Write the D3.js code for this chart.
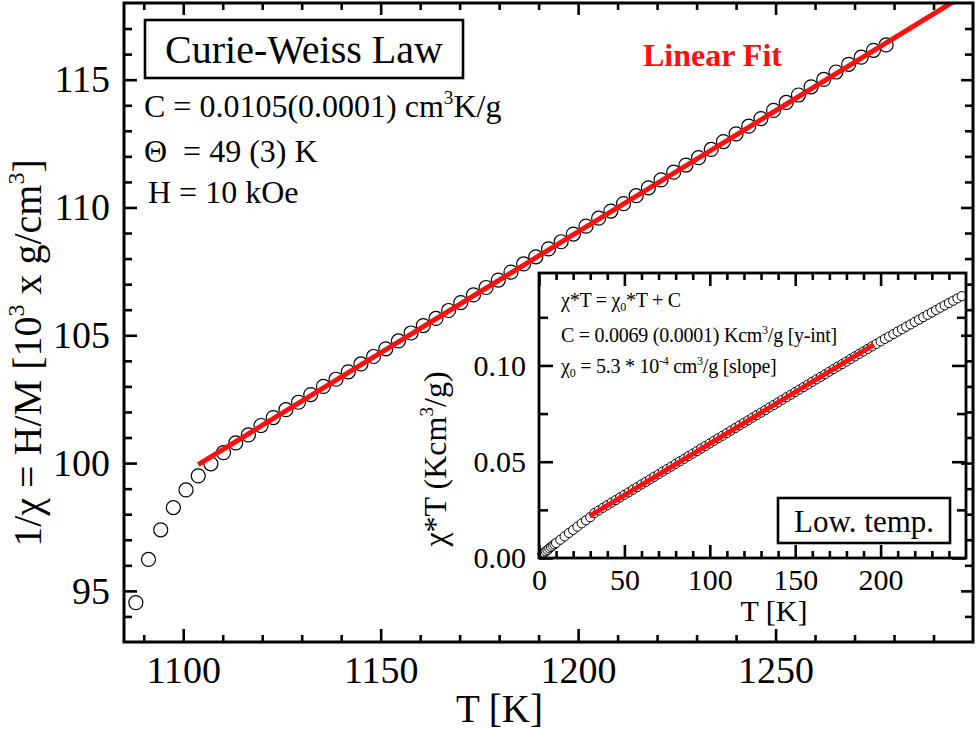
<!DOCTYPE html>
<html>
<head>
<meta charset="utf-8">
<script src="https://cdn.jsdelivr.net/npm/d3@7"></script>
<style>
  body { margin: 0; background: #fff; }
  svg text { font-family: 'Liberation Serif', 'Times New Roman', serif; fill: #000; white-space: pre; }
</style>
</head>
<body>
<svg id="chart"></svg>
<script>
//main plot data: 1/chi (10^3 g/cm3) against T (K)
let mainT = [1088.0, 1091.2, 1094.3, 1097.5, 1100.7, 1103.8, 1107.0, 1110.2, 1113.3, 1116.5,
  1119.7, 1122.8, 1126.0, 1129.2, 1132.3, 1135.5, 1138.7, 1141.8, 1145.0, 1148.2,
  1151.3, 1154.5, 1157.7, 1160.8, 1164.0, 1167.2, 1170.3, 1173.5, 1176.7, 1179.8,
  1183.0, 1186.2, 1189.3, 1192.5, 1195.7, 1198.8, 1202.0, 1205.2, 1208.3, 1211.5,
  1214.7, 1217.8, 1221.0, 1224.2, 1227.3, 1230.5, 1233.7, 1236.8, 1240.0, 1243.2,
  1246.3, 1249.5, 1252.7, 1255.8, 1259.0, 1262.2, 1265.3, 1268.5, 1271.7, 1274.8, 1278.0]
let mainInvChi = [94.54, 96.23, 97.39, 98.26, 98.95, 99.50, 99.97, 100.41, 100.79, 101.10,
  101.47, 101.78, 102.09, 102.38, 102.68, 103.00, 103.28, 103.57, 103.88, 104.17,
  104.47, 104.78, 105.09, 105.38, 105.66, 105.97, 106.28, 106.58, 106.87, 107.16,
  107.47, 107.79, 108.07, 108.38, 108.66, 108.96, 109.27, 109.58, 109.86, 110.15,
  110.46, 110.77, 111.08, 111.38, 111.66, 111.95, 112.27, 112.58, 112.88, 113.18,
  113.48, 113.80, 114.11, 114.40, 114.72, 115.01, 115.30, 115.60, 115.88, 116.15, 116.36]

//linear (Curie-Weiss) fit end points
let fitT = [1103.8, 1300]
let fitInvChi = [99.94, 118.52]

//inset data: chi*T (Kcm3/g) against T (K)
let insetT = [2, 3, 4, 5, 6, 7, 8, 9, 10, 12.5, 15, 17.5, 20, 22.5, 25, 27.5, 30,
  32.5, 35, 37.5, 40, 42.5, 45, 47.5, 50, 52.5, 55, 57.5, 60, 62.5, 65, 67.5, 70,
  72.5, 75, 77.5, 80, 82.5, 85, 87.5, 90, 92.5, 95, 97.5, 100, 102.5, 105, 107.5, 110,
  112.5, 115, 117.5, 120, 122.5, 125, 127.5, 130, 132.5, 135, 137.5, 140, 142.5, 145,
  147.5, 150, 152.5, 155, 157.5, 160, 162.5, 165, 167.5, 170, 172.5, 175, 177.5, 180,
  182.5, 185, 187.5, 190, 192.5, 195, 197.5, 200, 202.5, 205, 207.5, 210, 212.5, 215,
  217.5, 220, 222.5, 225, 227.5, 230, 232.5, 235, 237.5, 240, 242.5, 245, 247.5]
let insetChiT = [0.0020, 0.0028, 0.0035, 0.0042, 0.0050, 0.0057, 0.0064, 0.0071, 0.0078,
  0.0095, 0.0112, 0.0130, 0.0146, 0.0163, 0.0180, 0.0196, 0.0212,
  0.0234, 0.0247, 0.0261, 0.0274, 0.0288, 0.0301, 0.0315, 0.0328, 0.0341, 0.0355,
  0.0368, 0.0382, 0.0395, 0.0408, 0.0422, 0.0435, 0.0449, 0.0462, 0.0475, 0.0489,
  0.0502, 0.0515, 0.0529, 0.0542, 0.0555, 0.0569, 0.0582, 0.0595, 0.0609, 0.0622,
  0.0635, 0.0649, 0.0662, 0.0675, 0.0689, 0.0702, 0.0715, 0.0729, 0.0742, 0.0755,
  0.0768, 0.0782, 0.0795, 0.0808, 0.0822, 0.0835, 0.0848, 0.0862, 0.0875, 0.0888,
  0.0901, 0.0915, 0.0928, 0.0941, 0.0954, 0.0968, 0.0981, 0.0994, 0.1007, 0.1020,
  0.1034, 0.1047, 0.1060, 0.1073, 0.1086, 0.1099, 0.1112, 0.1125, 0.1138, 0.1150,
  0.1163, 0.1176, 0.1188, 0.1201, 0.1213, 0.1226, 0.1238, 0.1251, 0.1263, 0.1275,
  0.1288, 0.1300, 0.1312, 0.1324, 0.1336, 0.1348, 0.1360]

//inset linear fit end points
let insetFitT = [29.6, 196.1]
let insetFitChiT = [0.0217, 0.1108]

//tick values
let mainXTicks = [1100, 1150, 1200, 1250]
let mainYTicks = [95, 100, 105, 110, 115]
let insetXTicks = [0, 50, 100, 150, 200]
let insetYTicks = [0.00, 0.05, 0.10]

//layout
let outerWidth = 980
let outerHeight = 731
let frame = { left: 124, right: 973, top: 3, bottom: 642 }
let box = { left: 539, right: 966, top: 273, bottom: 558 }
let serif = "'Liberation Serif', 'Times New Roman', serif"

let svg = d3.select('svg#chart')
  .attr('width', outerWidth)
  .attr('height', outerHeight)

//scales
let xScale = d3.scaleLinear().domain([1085, 1300]).range([frame.left, frame.right])
let yScale = d3.scaleLinear().domain([93, 118]).range([frame.bottom, frame.top])
let ixScale = d3.scaleLinear().domain([0, 250]).range([box.left, box.right])
let iyScale = d3.scaleLinear().domain([0, 0.148]).range([box.bottom, box.top])

//minor ticks (skip the major ones)
let mainXMinor = d3.range(1090, 1300, 10).filter(d => d % 50 != 0)
let mainYMinor = d3.range(94, 118, 1).filter(d => d % 5 != 0)
let insetXMinor = d3.range(10, 250, 10).filter(d => d % 50 != 0)
let insetYMinor = [0.025, 0.075, 0.125]

//draws one side of ticks pointing inwards
function ticks(axisFn, scale, translate, values, size, fmt, fontSize, pad) {
  let axis = axisFn(scale)
    .tickValues(values)
    .tickSize(-size)
    .tickPadding(pad || 0)
    .tickFormat(fmt || (() => ''))
  let g = svg.append('g')
    .attr('transform', 'translate(' + translate[0] + ',' + translate[1] + ')')
    .call(axis)
  g.attr('font-family', serif).attr('font-size', fontSize || 10)
  g.select('.domain').remove()
  g.selectAll('line').attr('stroke', '#000').attr('stroke-width', 2.6)
  return g
}

//text with sub/superscripts: parts = [[string, kind]]
function richText(parent, x, y, size, parts, opts) {
  let t = parent.append('text')
    .attr('x', x)
    .attr('y', y)
    .attr('font-size', size)
  if (opts && opts.anchor) t.attr('text-anchor', opts.anchor)
  if (opts && opts.rotate) t.attr('transform', 'rotate(-90 ' + x + ' ' + y + ')')
  if (opts && opts.spacing) t.attr('letter-spacing', opts.spacing)
  let shift = 0
  parts.forEach(p => {
    let target = p[1] == 'sup' ? -0.42 * size : p[1] == 'sub' ? 0.22 * size : 0
    t.append('tspan')
      .attr('dy', target - shift)
      .attr('font-size', p[1] ? size * 0.6 : size)
      .text(p[0])
    shift = target
  })
  return t
}

let clip = svg.append('clipPath').attr('id', 'main-clip')
clip.append('rect')
  .attr('x', frame.left)
  .attr('y', frame.top)
  .attr('width', frame.right - frame.left)
  .attr('height', frame.bottom - frame.top)

//main data points
svg.append('g')
  .selectAll('circle')
  .data(mainT)
  .enter()
  .append('circle')
  .attr('cx', d => xScale(d))
  .attr('cy', (d, i) => yScale(mainInvChi[i]))
  .attr('r', 7)
  .attr('fill', 'none')
  .attr('stroke', '#000')
  .attr('stroke-width', 1.2)

//main linear fit
svg.append('path')
  .datum(fitT)
  .attr('clip-path', 'url(#main-clip)')
  .attr('d', d3.line().x(d => xScale(d)).y((d, i) => yScale(fitInvChi[i])))
  .attr('fill', 'none')
  .attr('stroke', '#ff1010')
  .attr('stroke-width', 5)

//annotations
svg.append('rect')
  .attr('x', 145)
  .attr('y', 20)
  .attr('width', 318)
  .attr('height', 58)
  .attr('fill', '#fff')
  .attr('stroke', '#000')
  .attr('stroke-width', 2.6)
svg.append('text')
  .attr('x', 304)
  .attr('y', 63)
  .attr('text-anchor', 'middle')
  .attr('font-size', 40)
  .text('Curie-Weiss Law')

richText(svg, 144, 117, 32, [['C = 0.0105(0.0001) cm'], ['3', 'sup'], ['K/g']])
svg.append('text').attr('x', 144).attr('y', 162).attr('font-size', 32).text('Θ  = 49 (3) K')
svg.append('text').attr('x', 148).attr('y', 203).attr('font-size', 32).text('H = 10 kOe')

svg.append('text')
  .attr('x', 643)
  .attr('y', 66)
  .attr('font-size', 32)
  .attr('font-weight', 'bold')
  .style('fill', '#ff1010')
  .text('Linear Fit')

//axis titles
svg.append('text')
  .attr('x', 456)
  .attr('y', 722)
  .attr('font-size', 39)
  .text('T [K]')
richText(svg, 41, 353, 40,
  [['1/χ = H/M [10'], ['3', 'sup'], [' x g/cm'], ['3', 'sup'], [']']],
  { anchor: 'middle', rotate: true })

//inset
let inset = svg.append('g')
inset.append('rect')
  .attr('x', box.left)
  .attr('y', box.top)
  .attr('width', box.right - box.left)
  .attr('height', box.bottom - box.top)
  .attr('fill', '#fff')

inset.append('g')
  .selectAll('circle')
  .data(insetT)
  .enter()
  .append('circle')
  .attr('cx', d => ixScale(d))
  .attr('cy', (d, i) => iyScale(insetChiT[i]))
  .attr('r', 4.6)
  .attr('fill', '#fff')
  .attr('stroke', '#000')
  .attr('stroke-width', 1)

inset.append('path')
  .datum(insetFitT)
  .attr('d', d3.line().x(d => ixScale(d)).y((d, i) => iyScale(insetFitChiT[i])))
  .attr('fill', 'none')
  .attr('stroke', '#ff1010')
  .attr('stroke-width', 5)

//inset ticks
ticks(d3.axisBottom, ixScale, [0, box.bottom], insetXTicks, 13, d => d, 30, 11)
ticks(d3.axisBottom, ixScale, [0, box.bottom], insetXMinor, 7)
ticks(d3.axisTop, ixScale, [0, box.top], insetXTicks, 13)
ticks(d3.axisTop, ixScale, [0, box.top], insetXMinor, 7)
ticks(d3.axisLeft, iyScale, [box.left, 0], insetYTicks, 14, d3.format('.2f'), 30, 13)
ticks(d3.axisLeft, iyScale, [box.left, 0], insetYMinor, 9)
ticks(d3.axisRight, iyScale, [box.right, 0], insetYTicks, 14)
ticks(d3.axisRight, iyScale, [box.right, 0], insetYMinor, 9)

inset.append('rect')
  .attr('x', box.left)
  .attr('y', box.top)
  .attr('width', box.right - box.left)
  .attr('height', box.bottom - box.top)
  .attr('fill', 'none')
  .attr('stroke', '#000')
  .attr('stroke-width', 2.8)

richText(svg, 561, 307, 20, [['χ*T = χ'], ['0', 'sub'], ['*T + C']], { spacing: -0.25 })
richText(svg, 561, 342, 20, [['C = 0.0069 (0.0001) Kcm'], ['3', 'sup'], ['/g [y-int]']], { spacing: -0.25 })
richText(svg, 561, 373, 20, [['χ'], ['0', 'sub'], [' = 5.3 * 10'], ['-4', 'sup'], [' cm'], ['3', 'sup'], ['/g [slope]']], { spacing: -0.25 })

svg.append('rect')
  .attr('x', 778)
  .attr('y', 498)
  .attr('width', 172)
  .attr('height', 45)
  .attr('fill', '#fff')
  .attr('stroke', '#000')
  .attr('stroke-width', 2.6)
svg.append('text')
  .attr('x', 864)
  .attr('y', 532)
  .attr('text-anchor', 'middle')
  .attr('font-size', 31)
  .text('Low. temp.')

svg.append('text')
  .attr('x', 774)
  .attr('y', 621)
  .attr('text-anchor', 'middle')
  .attr('font-size', 30)
  .text('T [K]')
richText(svg, 446, 459, 32, [['χ*T (Kcm'], ['3', 'sup'], ['/g)']], { anchor: 'middle', rotate: true })

//main ticks and frame on top
ticks(d3.axisBottom, xScale, [0, frame.bottom], mainXTicks, 13, d => d, 38, 14)
ticks(d3.axisBottom, xScale, [0, frame.bottom], mainXMinor, 7)
ticks(d3.axisTop, xScale, [0, frame.top], mainXTicks, 12)
ticks(d3.axisTop, xScale, [0, frame.top], mainXMinor, 7)
ticks(d3.axisLeft, yScale, [frame.left, 0], mainYTicks, 13, d => d, 38, 14)
ticks(d3.axisLeft, yScale, [frame.left, 0], mainYMinor, 8)
ticks(d3.axisRight, yScale, [frame.right, 0], mainYTicks, 12)
ticks(d3.axisRight, yScale, [frame.right, 0], mainYMinor, 8)

svg.append('rect')
  .attr('x', frame.left)
  .attr('y', frame.top)
  .attr('width', frame.right - frame.left)
  .attr('height', frame.bottom - frame.top)
  .attr('fill', 'none')
  .attr('stroke', '#000')
  .attr('stroke-width', 3)
</script>
</body>
</html>
